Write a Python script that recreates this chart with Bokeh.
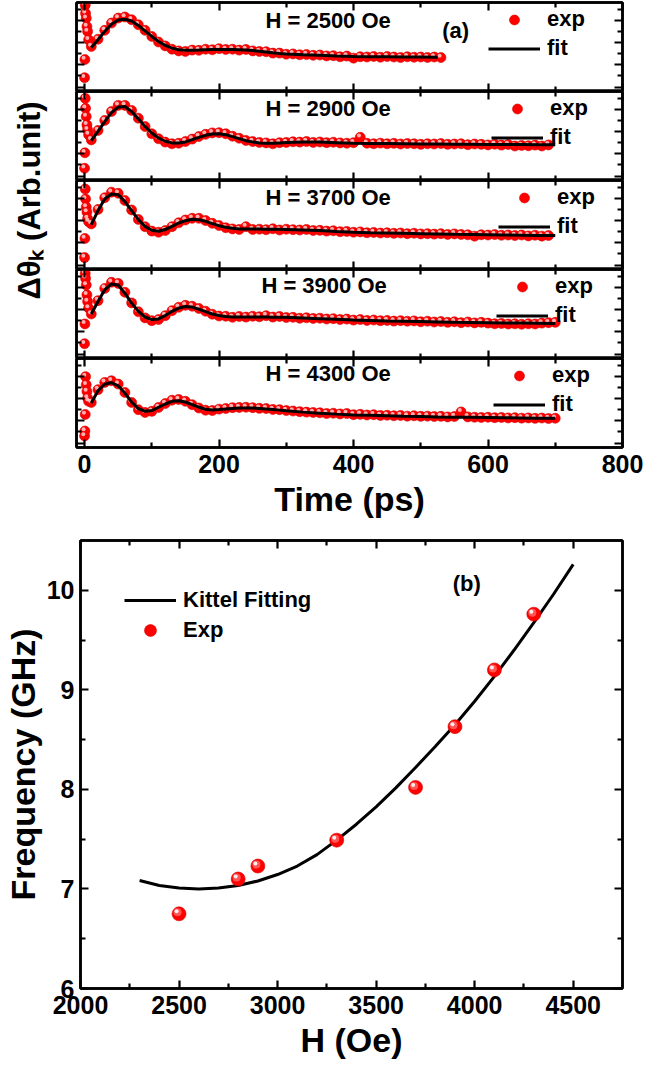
import math
from bokeh.plotting import figure
from bokeh.layouts import column, row
from bokeh.models import (Range1d, LinearAxis, FixedTicker, Legend, LegendItem,
                          CustomJSTickFormatter)
from bokeh.core.properties import value
from bokeh.embed import file_html
from bokeh.resources import INLINE

# ---------------- data: panel (a) time traces ----------------
FIELDS = [2500, 2900, 3700, 3900, 4300]          # Oe
SPIKE_T = [0.0, 0.5, 1.0, 1.5, 2.5, 3.5, 4.5, 6.0]  # ps, points of the coherent spike
EXP_T_STEP = 10                                   # ps, sampling of the exp trace after the spike
FIT_T = list(range(10, 301, 10)) + list(range(325, 701, 25))

SPIKE_2500 = [1.24, 2.87, 7.76, 7.02, 6.58, 5.84, 5.40, 4.65]
SPIKE_2900 = [1.10, 2.49, 7.38, 6.49, 5.75, 5.00, 4.56, 4.12]
SPIKE_3700 = [1.07, 2.79, 7.23, 6.34, 5.61, 5.16, 4.57, 4.30]
SPIKE_3900 = [1.33, 3.11, 7.64, 7.20, 6.61, 5.72, 5.13, 4.54]
SPIKE_4300 = [1.04, 1.48, 2.97, 6.37, 5.64, 5.04, 4.44, 4.15]

EXP_2500 = [4.05, 4.70, 5.50, 6.15, 6.60, 6.70, 6.45, 6.00, 5.50, 4.95,
            4.45, 4.10, 3.80, 3.65, 3.60, 3.72, 3.70, 3.80, 3.75, 3.85,
            3.78, 3.80, 3.72, 3.78, 3.65, 3.60, 3.58, 3.45, 3.45, 3.35,
            3.38, 3.30, 3.32, 3.25, 3.28, 3.20, 3.22, 3.12, 3.18, 3.00,
            3.12, 3.10, 3.15, 3.08, 3.14, 3.10, 3.05, 3.12, 3.08, 3.10,
            3.06, 3.10, 3.05]
EXP_2900 = [3.65, 4.50, 5.40, 6.20, 6.75, 6.75, 6.30, 5.60, 4.85, 4.20,
            3.75, 3.45, 3.30, 3.35, 3.50, 3.72, 3.95, 4.15, 4.28, 4.30,
            4.20, 3.98, 3.80, 3.60, 3.50, 3.42, 3.38, 3.30, 3.40, 3.42,
            3.48, 3.45, 3.50, 3.42, 3.46, 3.40, 3.44, 3.38, 3.35, 3.40,
            3.88, 3.35, 3.30, 3.36, 3.30, 3.34, 3.28, 3.32, 3.30, 3.25,
            3.30, 3.28, 3.32, 3.25, 3.28, 3.30, 3.22, 3.28, 3.25, 3.20,
            3.26, 3.18, 3.24, 3.10, 3.15, 3.12, 3.18, 3.10, 3.20]
EXP_3700 = [4.10, 5.40, 6.45, 6.95, 6.85, 6.20, 5.35, 4.50, 3.85, 3.45,
            3.35, 3.50, 3.85, 4.20, 4.45, 4.60, 4.60, 4.40, 4.15, 3.95,
            3.75, 3.65, 3.60, 3.85, 3.60, 3.62, 3.58, 3.66, 3.55, 3.62,
            3.58, 3.55, 3.60, 3.50, 3.52, 3.45, 3.48, 3.40, 3.42, 3.35,
            3.38, 3.30, 3.33, 3.28, 3.30, 3.25, 3.28, 3.22, 3.26, 3.20,
            3.22, 3.18, 3.22, 3.15, 3.20, 3.15, 3.12, 3.00, 3.12, 3.10,
            3.14, 3.08, 3.10, 3.05, 3.10, 3.02, 3.08, 3.00, 3.05]
EXP_3900 = [4.00, 5.20, 6.30, 6.85, 6.75, 5.95, 5.00, 4.20, 3.65, 3.40,
            3.50, 3.85, 4.30, 4.60, 4.78, 4.70, 4.50, 4.25, 3.98, 3.82,
            3.80, 3.70, 3.78, 3.72, 3.80, 3.75, 3.85, 3.72, 3.78, 3.68,
            3.70, 3.62, 3.66, 3.60, 3.62, 3.55, 3.58, 3.50, 3.54, 3.45,
            3.50, 3.42, 3.46, 3.40, 3.42, 3.36, 3.40, 3.35, 3.38, 3.30,
            3.35, 3.28, 3.32, 3.25, 3.30, 3.22, 3.28, 3.20, 3.25, 3.18,
            3.12, 3.15, 3.10, 3.12, 3.08, 3.12, 3.10, 3.18, 3.22, 3.25]
EXP_4300 = [4.05, 5.20, 5.85, 6.00, 5.70, 4.95, 4.05, 3.40, 3.15, 3.25,
            3.60, 3.95, 4.25, 4.32, 4.15, 3.85, 3.55, 3.35, 3.32, 3.45,
            3.50, 3.58, 3.60, 3.62, 3.58, 3.52, 3.50, 3.42, 3.40, 3.32,
            3.28, 3.22, 3.18, 3.15, 3.12, 3.05, 3.08, 3.02, 3.05, 2.95,
            2.98, 2.92, 2.95, 2.88, 2.90, 2.85, 2.88, 2.82, 2.85, 2.80,
            2.82, 2.78, 2.80, 2.75, 2.78, 3.20, 2.75, 2.72, 2.70, 2.72,
            2.68, 2.70, 2.66, 2.68, 2.64, 2.66, 2.62, 2.65, 2.60, 2.63]

FIT_2500 = [3.95, 4.65, 5.40, 6.04, 6.43, 6.50, 6.34, 5.93, 5.45, 4.95,
            4.50, 4.15, 3.90, 3.76, 3.70, 3.70, 3.72, 3.75, 3.77, 3.78,
            3.78, 3.77, 3.75, 3.72, 3.68, 3.62, 3.55, 3.48, 3.42, 3.38,
            3.31, 3.26, 3.20, 3.15, 3.13, 3.12, 3.10, 3.09, 3.08]
FIT_2900 = [3.58, 4.41, 5.30, 6.10, 6.60, 6.65, 6.20, 5.54, 4.86, 4.27,
            3.82, 3.53, 3.38, 3.38, 3.47, 3.67, 3.88, 4.06, 4.18, 4.20,
            4.12, 3.94, 3.76, 3.58, 3.47, 3.38, 3.35, 3.35, 3.38, 3.41,
            3.46, 3.45, 3.40, 3.35, 3.33, 3.32, 3.30, 3.28, 3.27, 3.26,
            3.25, 3.24, 3.23, 3.23, 3.22, 3.22]
FIT_3700 = [4.03, 5.30, 6.34, 6.79, 6.73, 6.10, 5.30, 4.48, 3.88, 3.53,
            3.44, 3.59, 3.88, 4.18, 4.39, 4.51, 4.48, 4.33, 4.12, 3.94,
            3.80, 3.71, 3.65, 3.63, 3.63, 3.63, 3.62, 3.62, 3.61, 3.60,
            3.56, 3.50, 3.42, 3.35, 3.31, 3.28, 3.25, 3.22, 3.19, 3.16,
            3.14, 3.12, 3.10, 3.08, 3.06, 3.05]
FIT_3900 = [4.00, 5.13, 6.17, 6.70, 6.61, 5.87, 4.98, 4.24, 3.73, 3.50,
            3.56, 3.86, 4.24, 4.53, 4.68, 4.62, 4.44, 4.21, 4.00, 3.86,
            3.77, 3.74, 3.73, 3.73, 3.73, 3.72, 3.72, 3.71, 3.70, 3.70,
            3.64, 3.58, 3.52, 3.46, 3.42, 3.38, 3.35, 3.32, 3.29, 3.26,
            3.24, 3.22, 3.20, 3.18, 3.16, 3.14]
FIT_4300 = [4.00, 5.10, 5.69, 5.84, 5.55, 4.89, 4.09, 3.50, 3.26, 3.32,
            3.62, 3.91, 4.15, 4.21, 4.09, 3.86, 3.62, 3.44, 3.38, 3.41,
            3.46, 3.50, 3.54, 3.56, 3.55, 3.50, 3.45, 3.41, 3.36, 3.30,
            3.18, 3.08, 3.00, 2.93, 2.89, 2.85, 2.81, 2.78, 2.75, 2.73,
            2.71, 2.69, 2.67, 2.65, 2.63, 2.62]

TIME_TICKS = [0, 200, 400, 600, 800]

# ---------------- data: panel (b) frequency vs field ----------------
H_EXP = [2500, 2800, 2900, 3300, 3700, 3900, 4100, 4300]
F_EXP = [6.75, 7.10, 7.23, 7.49, 8.02, 8.63, 9.20, 9.76]
H_FIT = [2300, 2400, 2500, 2600, 2700, 2800, 2900, 3000, 3100, 3200, 3300, 3400,
         3500, 3600, 3700, 3800, 3900, 4000, 4100, 4200, 4300, 4400, 4500]
F_FIT = [7.085, 7.035, 7.01, 7.00, 7.01, 7.035, 7.08, 7.145, 7.23, 7.345, 7.49, 7.65,
         7.825, 8.015, 8.22, 8.43, 8.65, 8.885, 9.135, 9.40, 9.675, 9.96, 10.26]
H_TICKS = [2000, 2500, 3000, 3500, 4000, 4500]
F_TICKS = [6, 7, 8, 9, 10]

SPIKES = [SPIKE_2500, SPIKE_2900, SPIKE_3700, SPIKE_3900, SPIKE_4300]
EXPS = [EXP_2500, EXP_2900, EXP_3700, EXP_3900, EXP_4300]
FITS = [FIT_2500, FIT_2900, FIT_3700, FIT_3900, FIT_4300]

# ---------------- styling / layout ----------------
FONT = "Liberation Sans"
W = 651
BL, BR = 76, 29
FRAME_W = W - BL - BR
LABEL_W = 60               # narrow column that carries the rotated y title of panel (a)
SUB_H = 89
TOP_A, BOT_A = 2, 80
RED = "#ff0000"
RED_EDGE = "#d40000"

H_LABEL_X = [269, 269, 269, 263, 269]
H_LABEL_Y = [6.4, 6.5, 6.5, 6.6, 6.65]
LEG_X = [412, 415, 422, 420, 417]


def style_axis(ax, ticks, minor, show_labels):
    ax.ticker = FixedTicker(ticks=ticks, minor_ticks=minor)
    ax.axis_line_width = 2.5
    ax.axis_line_color = "black"
    ax.major_tick_line_width = 2.2
    ax.minor_tick_line_width = 2.2
    ax.major_tick_line_color = "black"
    ax.minor_tick_line_color = "black"
    ax.major_tick_in = 8
    ax.major_tick_out = 0
    ax.minor_tick_in = 5
    ax.minor_tick_out = 0
    if show_labels:
        ax.major_label_text_font = FONT
        ax.major_label_text_font_style = "bold"
        ax.major_label_text_font_size = "25px"
        ax.major_label_text_color = "black"
        ax.major_label_standoff = 7
    else:
        ax.formatter = CustomJSTickFormatter(code="return ''")
        ax.major_label_text_font_size = "0px"
        ax.major_label_standoff = 0


def style_axis_label(ax, text, size, standoff):
    ax.axis_label = text
    ax.axis_label_text_font = FONT
    ax.axis_label_text_font_style = "bold"
    ax.axis_label_text_font_size = size
    ax.axis_label_text_color = "black"
    ax.axis_label_standoff = standoff


def base_fig(width, height, left, top, bottom, xr, yr):
    p = figure(width=width, height=height, x_range=xr, y_range=yr,
               output_backend="svg", toolbar_location=None,
               min_border_left=left, min_border_right=BR,
               min_border_top=top, min_border_bottom=bottom)
    p.xgrid.visible = False
    p.ygrid.visible = False
    p.outline_line_color = "black"
    p.outline_line_width = 2.5
    p.background_fill_color = "white"
    p.border_fill_color = "white"
    p.add_layout(LinearAxis(), "above")
    p.add_layout(LinearAxis(), "right")
    return p


# ---------------- panel (a) ----------------
x_range_a = Range1d(-12, 800)
px_t = (800 + 12) / FRAME_W
px_v = 8.0 / SUB_H
figs = []
for i in range(5):
    top = TOP_A if i == 0 else 0
    bottom = BOT_A if i == 4 else 0
    p = base_fig(W - LABEL_W, SUB_H + top + bottom, BL - LABEL_W, top, bottom,
                 x_range_a, Range1d(0, 8))
    minor_t = [100, 300, 500, 700]
    for ax in p.xaxis:
        style_axis(ax, TIME_TICKS, minor_t, show_labels=(i == 4 and ax is p.below[0]))
    for ax in p.yaxis:
        style_axis(ax, [0.4, 2.4, 4.4, 6.4], [1.4, 3.4, 5.4, 7.4], show_labels=False)

    exp_vals = SPIKES[i] + EXPS[i]
    exp_t = SPIKE_T + [EXP_T_STEP * (k + 1) for k in range(len(EXPS[i]))]
    fit_vals = FITS[i]
    fit_t = FIT_T[:len(fit_vals)]

    r_exp = p.scatter(exp_t, exp_vals, marker="circle", size=10, fill_color=RED,
                      line_color=RED_EDGE, line_width=0.6)
    p.scatter([t - 1.3 * px_t for t in exp_t], [v + 1.8 * px_v for v in exp_vals],
              marker="circle", size=4, fill_color="#ffd0d0", fill_alpha=0.85, line_color=None)
    r_fit = p.line(fit_t, fit_vals, line_color="black", line_width=3)

    p.text(x=[H_LABEL_X[i]], y=[H_LABEL_Y[i]], text=[f"H = {FIELDS[i]} Oe"],
           text_font=value(FONT), text_font_style="bold", text_font_size="22px",
           text_baseline="middle", text_align="left", text_color="black")
    if i == 0:
        p.text(x=[552], y=[5.5], text=["(a)"], text_font=value(FONT),
               text_font_style="bold", text_font_size="22px",
               text_baseline="middle", text_align="center", text_color="black")

    leg = Legend(items=[LegendItem(label="exp", renderers=[r_exp]),
                        LegendItem(label="fit", renderers=[r_fit])],
                 location=(LEG_X[i], 30), padding=0, margin=0, spacing=3,
                 glyph_width=52, glyph_height=25, label_height=25, label_standoff=7,
                 border_line_color=None, background_fill_alpha=0,
                 label_text_font=FONT, label_text_font_style="bold",
                 label_text_font_size="22px", label_text_color="black")
    p.add_layout(leg)

    if i == 4:
        style_axis_label(p.below[0], "Time (ps)", "34px", 4)
    figs.append(p)

# rotated y title of panel (a), in its own narrow column
H_A = TOP_A + 5 * SUB_H + BOT_A
lab = figure(width=LABEL_W, height=H_A, x_range=Range1d(0, LABEL_W), y_range=Range1d(0, H_A),
             output_backend="svg", toolbar_location=None,
             x_axis_location=None, y_axis_location=None,
             min_border_left=0, min_border_right=0, min_border_top=0, min_border_bottom=0)
lab.xgrid.visible = False
lab.ygrid.visible = False
lab.outline_line_color = None
lab.text(x=[29], y=[H_A - 200], text=["Δθₖ (Arb.unit)"], angle=math.pi / 2,
         text_font=value(FONT), text_font_style="bold", text_font_size="31px",
         text_baseline="middle", text_align="center", text_color="black")

# ---------------- panel (b) ----------------
FB_H = 448
pb = base_fig(W, 13 + FB_H + 80, BL, 13, 80, Range1d(2000, 4750), Range1d(6, 10.5))
for ax in pb.xaxis:
    style_axis(ax, H_TICKS, [2250, 2750, 3250, 3750, 4250], show_labels=(ax is pb.below[0]))
for ax in pb.yaxis:
    style_axis(ax, F_TICKS, [6.5, 7.5, 8.5, 9.5], show_labels=(ax is pb.left[0]))
pb.left[0].major_label_standoff = 6
style_axis_label(pb.below[0], "H (Oe)", "34px", 4)
style_axis_label(pb.left[0], "Frequency (GHz)", "34px", 2)

px_h = (4750 - 2000) / FRAME_W
px_f = 4.5 / FB_H
r_kit = pb.line(H_FIT, F_FIT, line_color="black", line_width=3)
r_pts = pb.scatter(H_EXP, F_EXP, marker="circle", size=14, fill_color=RED,
                   line_color=RED_EDGE, line_width=0.6)
pb.scatter([h - 1.5 * px_h for h in H_EXP], [f + 1.5 * px_f for f in F_EXP],
           marker="circle", size=8, fill_color="#ff6a6a", fill_alpha=0.8, line_color=None)
pb.scatter([h - 2.5 * px_h for h in H_EXP], [f + 2.5 * px_f for f in F_EXP],
           marker="circle", size=4, fill_color="white", fill_alpha=0.9, line_color=None)
pb.text(x=[3960], y=[10.07], text=["(b)"], text_font=value(FONT), text_font_style="bold",
        text_font_size="22px", text_baseline="middle", text_align="center", text_color="black")

legb = Legend(items=[LegendItem(label="Kittel Fitting", renderers=[r_kit]),
                     LegendItem(label="Exp", renderers=[r_pts])],
              location=(44, 343), padding=0, margin=0, spacing=0,
              glyph_width=52, glyph_height=30, label_height=30, label_standoff=7,
              border_line_color=None, background_fill_alpha=0,
              label_text_font=FONT, label_text_font_style="bold",
              label_text_font_size="22px", label_text_color="black")
pb.add_layout(legb)

layout = column(row(lab, column(*figs, spacing=0), spacing=0), pb, spacing=0)
open("out.html", "w").write(file_html(layout, INLINE))
